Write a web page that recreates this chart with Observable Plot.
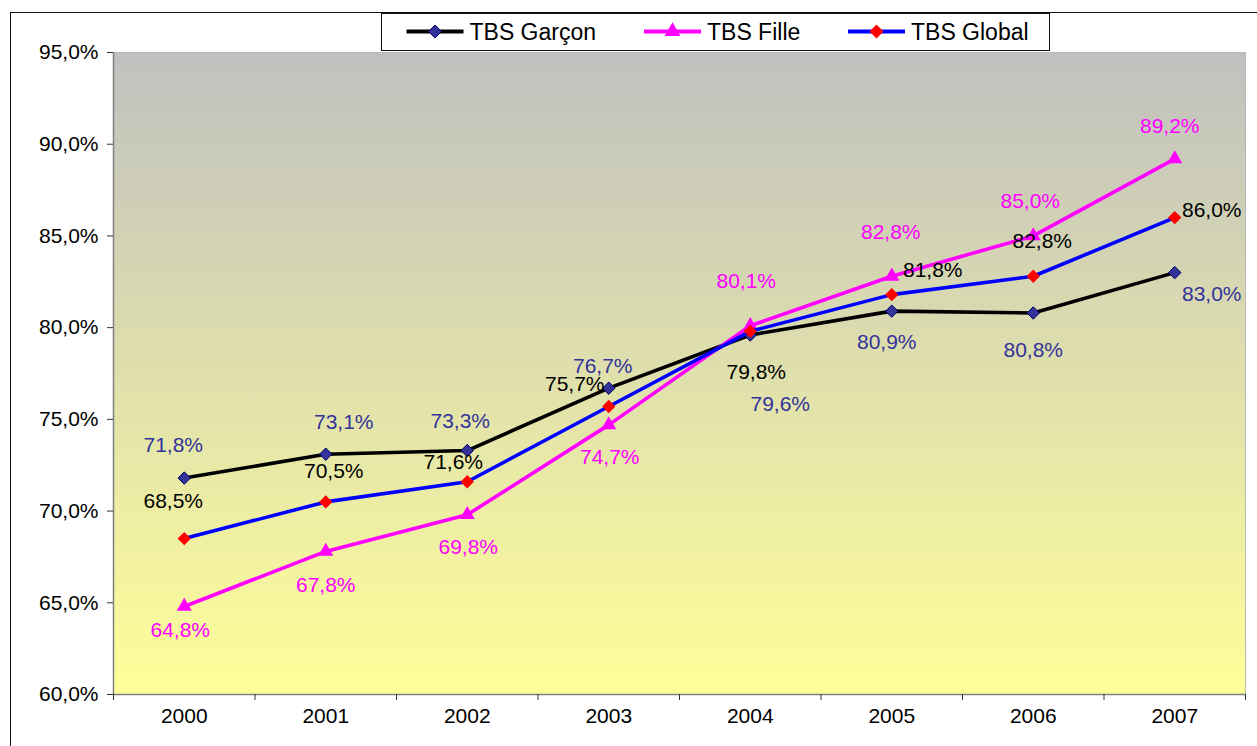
<!DOCTYPE html>
<html>
<head>
<meta charset="utf-8">
<script src="https://cdn.jsdelivr.net/npm/d3@7"></script>
<script src="https://cdn.jsdelivr.net/npm/@observablehq/plot@0.6"></script>
<style>
  body { margin: 0; background: #fff; font-family: "Liberation Sans", Arial, sans-serif; }
  #wrap { position: relative; width: 1257px; height: 746px; overflow: hidden; background: #fff; }
  #chart { position: absolute; left: 0; top: 0; }
  #border { position: absolute; left: 10px; top: 12px; width: 1300px; height: 800px;
            border-left: 1.5px solid #111; border-top: 1.5px solid #111; pointer-events: none; }
  #legend { position: absolute; left: 381px; top: 13px; width: 669px; height: 38px;
            border: 1px solid #111; background: #fff; box-sizing: border-box; }
</style>
</head>
<body>
<div id="wrap">
  <div id="chart"></div>
  <div id="border"></div>
  <div id="legend"></div>
</div>
<script>
// ---- Data ----
const years = [2000, 2001, 2002, 2003, 2004, 2005, 2006, 2007];
const tbsGarcon = [71.8, 73.1, 73.3, 76.7, 79.6, 80.9, 80.8, 83.0];
const tbsFille  = [64.8, 67.8, 69.8, 74.7, 80.1, 82.8, 85.0, 89.2];
const tbsGlobal = [68.5, 70.5, 71.6, 75.7, 79.8, 81.8, 82.8, 86.0];
const seriesNames = ["TBS Garçon", "TBS Fille", "TBS Global"];
const yTickValues = [60, 65, 70, 75, 80, 85, 90, 95];

// ---- Styling / label placement (pixel nudges, not data) ----
const styles = [
  { line: "#000000", symbol: "diamond2", r: 5.6, fill: "#333399", stroke: "#000066", label: "#333399",
    nudges: [[-11,-33],[18,-32],[-7,-29],[-6,-22],[30,69],[-5,31],[0,37],[37,22]] },
  { line: "#FF00FF", symbol: "triangle", r: 5.6, fill: "#FF00FF", stroke: "none", label: "#FF00FF",
    nudges: [[-4,24],[0,34],[1,33],[1,32],[-4,-45],[-1,-44],[-3,-35],[-5,-33]] },
  { line: "#0000FF", symbol: "diamond2", r: 6, fill: "#FF0000", stroke: "none", label: "#000000",
    nudges: [[-11,-37],[8,-31],[-14,-19],[-34,-22],[6,41],[41,-24],[9,-35],[37,-7]] }
];

const fmt = v => v.toFixed(1).replace(".", ",") + "%";
const seriesValues = [tbsGarcon, tbsFille, tbsGlobal];
const series = seriesNames.map((name, s) => ({
  name, style: styles[s],
  data: years.map((year, i) => ({ year, value: seriesValues[s][i], i }))
}));

const boundaries = d3.range(years[0] - 0.5, years[years.length - 1] + 1, 1);

const marks = [
  Plot.frame({ fill: "url(#bgGrad)", stroke: "#b8b8b8" }),
  Plot.ruleX([boundaries[0]], { stroke: "#808080", strokeWidth: 1.5 }),
  Plot.ruleY([yTickValues[0]], { stroke: "#808080", strokeWidth: 1.5 }),
  Plot.axisY({ ticks: yTickValues, tickSize: 6, tickPadding: 9, tickFormat: fmt, stroke: "#333", fill: "#000", label: null }),
  Plot.axisX({ ticks: boundaries, tickSize: 6, tickFormat: () => "", stroke: "#333", label: null }),
  Plot.axisX({ ticks: years, tickSize: 0, tickPadding: 14, tickFormat: d => String(d), fill: "#000", label: null })
];

for (const s of series) {
  marks.push(Plot.line(s.data, { x: "year", y: "value", stroke: s.style.line, strokeWidth: 3.6, strokeLinejoin: "round" }));
  marks.push(Plot.dot(s.data, { x: "year", y: "value", symbol: s.style.symbol, r: s.style.r,
    fill: s.style.fill, stroke: s.style.stroke, strokeWidth: 1 }));
}
for (const s of series) {
  for (const d of s.data) {
    const [dx, dy] = s.style.nudges[d.i];
    marks.push(Plot.text([d], { x: "year", y: "value", text: d => fmt(d.value), dx, dy,
      fill: s.style.label, fontSize: 21 }));
  }
}

const chart = Plot.plot({
  width: 1257,
  height: 746,
  marginLeft: 113,
  marginRight: 12,
  marginTop: 52,
  marginBottom: 52,
  style: { fontFamily: "'Liberation Sans', Arial, sans-serif", fontSize: "21px", background: "transparent", overflow: "visible" },
  x: { type: "linear", domain: [boundaries[0], boundaries[boundaries.length - 1]], axis: null },
  y: { type: "linear", domain: [yTickValues[0], yTickValues[yTickValues.length - 1]], axis: null },
  marks
});

const defs = d3.select(chart).insert("defs", ":first-child");
const grad = defs.append("linearGradient").attr("id", "bgGrad")
  .attr("x1", 0).attr("y1", 0).attr("x2", 0).attr("y2", 1);
grad.append("stop").attr("offset", "0%").attr("stop-color", "#C0C0C0");
grad.append("stop").attr("offset", "100%").attr("stop-color", "#FFFF99");

document.getElementById("chart").appendChild(chart);

// ---- Legend ----
const legendPos = [24.5, 262, 466];
const lg = d3.select("#legend").append("svg").attr("width", 667).attr("height", 36);
series.forEach((s, k) => {
  const x0 = legendPos[k], y0 = 17.5;
  const g = lg.append("g").attr("transform", `translate(${x0},${y0})`);
  g.append("line").attr("x1", 0).attr("x2", 57).attr("y1", 0).attr("y2", 0)
    .attr("stroke", s.style.line).attr("stroke-width", 4);
  const sym = s.style.symbol === "triangle" ? d3.symbolTriangle : d3.symbolDiamond2;
  g.append("path").attr("transform", "translate(28.5,0)")
    .attr("d", d3.symbol(sym, Math.PI * s.style.r * s.style.r * 1.1)())
    .attr("fill", s.style.fill).attr("stroke", s.style.stroke === "none" ? null : s.style.stroke);
  g.append("text").attr("x", 63).attr("y", 6).attr("font-size", 23)
    .attr("font-family", "'Liberation Sans', Arial, sans-serif")
    .attr("dy", "0.1em").attr("fill", "#000").text(s.name);
});
</script>
</body>
</html>
